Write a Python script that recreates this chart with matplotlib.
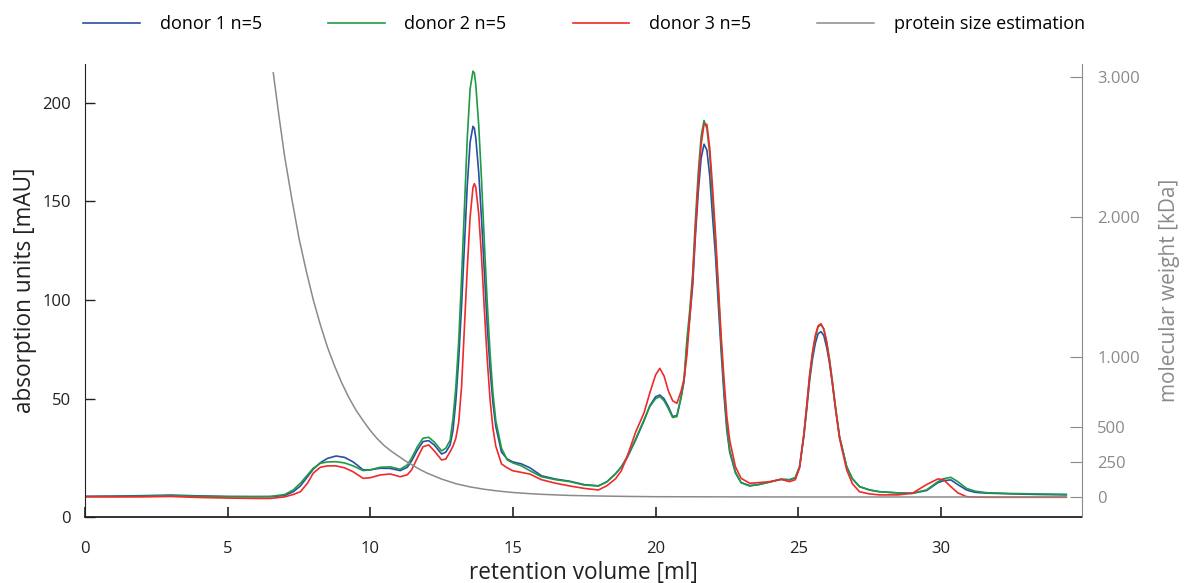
import matplotlib
matplotlib.use('Agg')
import matplotlib.pyplot as plt
import numpy as np

plt.rcParams['font.family'] = ['Open Sans', 'DejaVu Sans']

# retention volume [ml], shared by the three donor traces
vol = [0, 1, 2, 3, 4, 5, 6, 6.5, 7.0, 7.3, 7.55, 7.8, 8.0, 8.25, 8.5, 8.8, 9.1, 9.4, 9.75,
       10.0, 10.35, 10.7, 11.05, 11.3, 11.45, 11.65, 11.85, 12.05, 12.25, 12.5, 12.65, 12.8,
       12.9, 13.0, 13.1, 13.2, 13.3, 13.4, 13.5, 13.6, 13.65, 13.7, 13.8, 13.9, 14.0, 14.1,
       14.2, 14.3, 14.4, 14.6, 14.8, 15.0, 15.3, 15.6, 16.0, 16.5, 17.0, 17.5, 18.0, 18.3,
       18.6, 18.8, 19.0, 19.3, 19.6, 19.8, 20.0, 20.15, 20.3, 20.45, 20.6, 20.75, 20.9, 21.0,
       21.1, 21.2, 21.3, 21.4, 21.5, 21.6, 21.7, 21.8, 21.9, 22.0, 22.1, 22.2, 22.3, 22.4,
       22.5, 22.6, 22.8, 23.0, 23.3, 23.6, 24.0, 24.4, 24.7, 24.9, 25.05, 25.2, 25.3, 25.4,
       25.5, 25.6, 25.7, 25.8, 25.9, 26.0, 26.1, 26.2, 26.3, 26.45, 26.7, 26.9, 27.15, 27.5,
       27.85, 28.5, 29.0, 29.5, 29.9, 30.1, 30.35, 30.6, 30.9, 31.2, 31.6, 32.5, 33.5, 34.4]

# absorption [mAU]
donor1 = [0.6, 0.7, 0.9, 1.2, 0.8, 0.5, 0.4, 0.4, 1.0, 2.9, 5.8, 10.5, 14.3, 17.6, 19.8, 21.0,
          20.3, 18.0, 14.0, 14.0, 14.8, 14.7, 13.6, 15.3, 18.5, 24.0, 28.3, 28.8, 26.5, 22.0,
          23.0, 26.6, 34.0, 49.0, 70.0, 97.0, 128.0, 158.0, 180.0, 188.0, 187.0, 182.0, 165.0,
          141.0, 114.0, 87.0, 65.0, 48.0, 36.0, 23.0, 19.5, 18.0, 17.0, 15.0, 11.0, 9.3, 8.2,
          6.5, 5.9, 8.0, 12.0, 15.5, 20.0, 29.0, 39.0, 46.5, 51.0, 51.9, 50.0, 46.0, 41.0, 41.5,
          51.0, 59.0, 77.0, 91.0, 107.0, 133.0, 155.0, 172.0, 179.0, 176.0, 163.0, 142.0, 123.0,
          98.0, 74.0, 52.0, 34.0, 23.0, 12.5, 7.5, 6.0, 6.5, 7.8, 9.2, 9.0, 10.0, 15.6, 31.0,
          44.5, 59.0, 70.0, 78.0, 83.0, 84.0, 82.0, 76.0, 68.0, 57.5, 46.0, 30.5, 15.6, 9.5,
          5.5, 3.8, 2.9, 2.3, 2.1, 3.5, 7.5, 8.5, 8.9, 6.5, 3.8, 2.6, 2.2, 1.8, 1.5, 1.3]
donor2 = [0.3, 0.5, 0.6, 0.9, 0.6, 0.4, 0.4, 0.5, 1.5, 3.8, 7.2, 11.4, 14.8, 17.3, 18.0, 18.1,
          17.5, 16.0, 13.6, 14.0, 15.3, 15.5, 14.3, 16.5, 20.0, 25.7, 30.0, 30.5, 28.0, 23.6,
          25.0, 29.0, 40.0, 56.0, 79.0, 111.0, 147.0, 182.0, 207.0, 216.0, 215.0, 209.0, 189.0,
          161.0, 129.0, 99.0, 73.0, 53.0, 39.0, 25.0, 19.0, 17.5, 16.0, 13.5, 10.5, 9.0, 8.0,
          6.3, 5.8, 8.0, 12.0, 15.5, 20.5, 29.5, 39.5, 46.0, 50.0, 51.1, 49.0, 45.0, 40.5, 41.0,
          51.0, 60.0, 80.0, 95.0, 113.0, 141.0, 165.0, 183.0, 191.0, 187.0, 174.0, 151.0, 130.0,
          104.0, 78.0, 55.0, 36.0, 24.0, 13.0, 7.5, 5.8, 6.5, 7.8, 9.2, 8.9, 10.0, 15.6, 32.0,
          46.0, 61.0, 72.0, 81.0, 86.5, 87.5, 85.5, 79.0, 70.0, 59.0, 47.0, 31.0, 15.6, 9.5,
          5.5, 3.8, 2.9, 2.3, 2.1, 3.8, 8.0, 9.5, 10.2, 8.0, 4.6, 3.2, 2.4, 2.0, 1.8, 1.6]
donor3 = [0.4, 0.3, 0.3, 0.5, 0.0, -0.3, -0.5, -0.5, 0.3, 1.5, 2.9, 7.2, 12.3, 15.3, 16.0,
          16.0, 15.0, 13.0, 9.7, 10.0, 11.4, 11.9, 10.5, 11.5, 14.0, 20.0, 25.7, 26.6, 23.5,
          19.0, 19.5, 23.2, 26.0, 30.0, 38.0, 56.0, 86.0, 116.0, 142.0, 157.0, 159.0, 157.0,
          144.0, 122.0, 95.0, 70.0, 49.5, 35.0, 26.0, 17.0, 15.0, 13.5, 12.7, 11.8, 9.0, 7.2,
          5.8, 4.6, 3.8, 6.0, 9.5, 13.5, 20.5, 33.0, 43.0, 53.0, 62.0, 65.4, 61.5, 54.0, 49.0,
          47.7, 54.0, 60.0, 72.0, 91.0, 110.0, 136.0, 160.0, 179.0, 189.0, 189.0, 177.0, 157.0,
          134.0, 108.0, 82.0, 60.0, 41.0, 29.0, 15.6, 9.7, 7.2, 7.5, 8.0, 9.2, 8.0, 9.0, 15.0,
          32.0, 46.5, 62.0, 73.5, 82.0, 87.0, 88.0, 85.0, 78.5, 69.0, 58.0, 46.0, 30.0, 14.0,
          7.0, 2.9, 1.8, 1.3, 1.3, 2.1, 6.5, 9.4, 9.0, 5.5, 2.3, 0.4, 0.2, 0.1, 0.1, 0.1, 0.1]

# protein size estimation [kDa]
size_vol = [6.6, 6.8, 7.0, 7.25, 7.5, 7.75, 8.0, 8.25, 8.5, 8.75, 9.0, 9.25, 9.5, 9.75, 10.0,
            10.25, 10.5, 10.75, 11.0, 11.25, 11.5, 11.75, 12.0, 12.5, 13.0, 13.5, 14.0, 14.5,
            15.0, 15.5, 16.0, 17.0, 18.0, 19.0, 20.0, 22.0, 25.0, 34.4]
size_kda = [3030, 2720, 2430, 2130, 1850, 1620, 1410, 1230, 1070, 935, 815, 710, 620, 545, 475,
            415, 365, 325, 290, 255, 225, 195, 170, 128, 95, 72, 55, 42, 32, 25, 19, 11, 7,
            4, 2, 1, 0, 0]

labels = ['donor 1 n=5', 'donor 2 n=5', 'donor 3 n=5', 'protein size estimation']
colors = ['#2b4ea2', '#1f9a46', '#ee2a2a', '#8a8a8a']
dark = '#222222'

fig = plt.figure(figsize=(11.85, 5.83), dpi=100)
ax = fig.add_axes([85 / 1185, 66 / 583, 997 / 1185, 453 / 583])
ax2 = ax.twinx()

lines = []
for y, c, lab in zip([donor1, donor2, donor3], colors[:3], labels[:3]):
    l, = ax.plot(vol, y, color=c, lw=1.2, label=lab)
    lines.append(l)
l, = ax2.plot(size_vol, size_kda, color=colors[3], lw=1.1, label=labels[3])
lines.append(l)

ax.set_xlim(0, 34.95)
ax.set_ylim(-9.9, 219.6)
ax.set_xticks([0, 5, 10, 15, 20, 25, 30])
ax.set_yticks([-9.9, 50, 100, 150, 200])
ax.set_yticklabels(['0', '50', '100', '150', '200'])
ax.tick_params(axis='both', direction='in', labelsize=12, color=dark, labelcolor=dark)
ax.tick_params(axis='x', length=7, width=1.2, pad=17)
ax.tick_params(axis='y', length=7, width=1.0, pad=10)
ax.set_xlabel('retention volume [ml]', fontsize=16.3, color=dark, labelpad=3)
ax.set_ylabel('absorption units [mAU]', fontsize=16.3, color=dark, labelpad=4)
for s in ['top', 'right']:
    ax.spines[s].set_visible(False)
ax.spines['left'].set_color(dark)
ax.spines['bottom'].set_color(dark)
ax.spines['bottom'].set_linewidth(1.3)

ax2.set_ylim(-143, 3093)
ax2.set_yticks([0, 250, 500, 1000, 2000, 3000])
ax2.set_yticklabels(['0', '250', '500', '1.000', '2.000', '3.000'])
ax2.tick_params(axis='y', direction='in', length=9, color=colors[3], labelcolor=colors[3],
                labelsize=12, pad=11)
ax2.set_ylabel('molecular weight [kDa]', fontsize=15, color=colors[3], labelpad=14)
for s in ['top', 'left', 'bottom']:
    ax2.spines[s].set_visible(False)
ax2.spines['right'].set_color(colors[3])

fig.legend(handles=lines, labels=labels, loc='center left', bbox_to_anchor=(83 / 1185, 1 - 24 / 583),
           ncol=4, frameon=False, fontsize=13, handlelength=3.15, handletextpad=1.1,
           columnspacing=3.65, borderpad=0, borderaxespad=0)

fig.savefig('out.png', dpi=100)
